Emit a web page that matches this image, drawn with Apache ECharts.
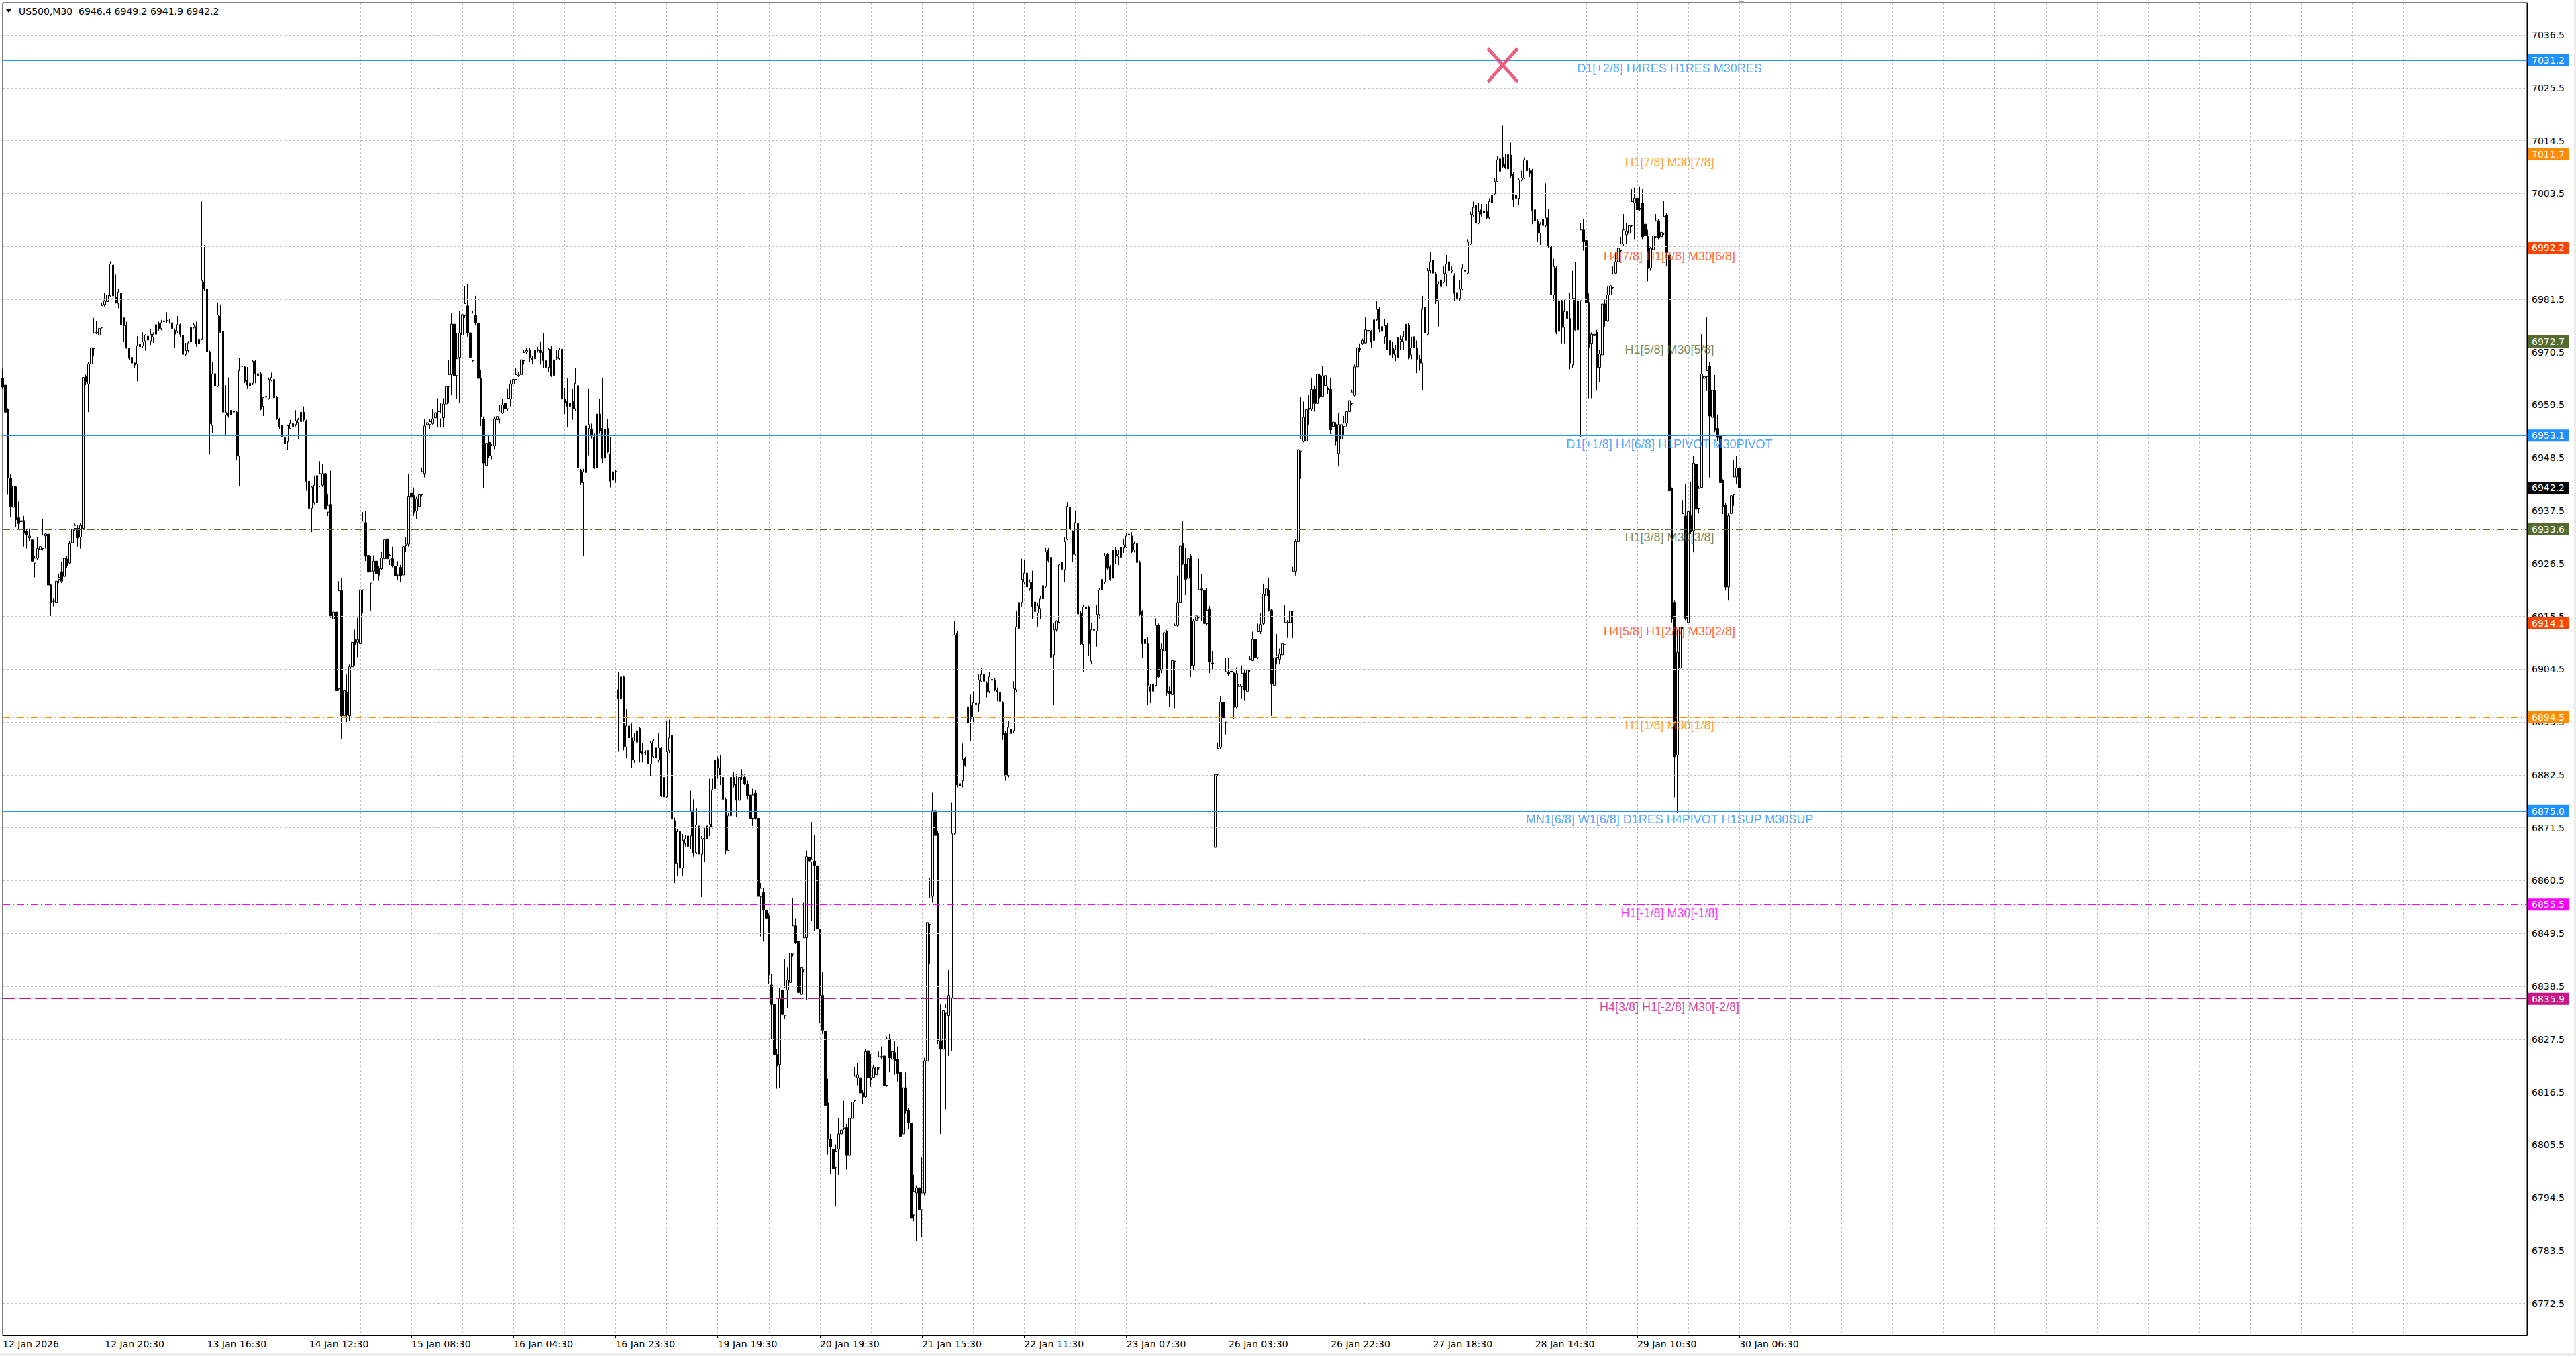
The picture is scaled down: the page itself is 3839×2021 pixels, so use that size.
<!DOCTYPE html>
<html>
<head>
<meta charset="utf-8">
<script src="https://cdn.jsdelivr.net/npm/echarts@6/dist/echarts.min.js"></script>
<style>html,body{margin:0;padding:0;background:#fff;}#c{width:3839px;height:2021px;}</style>
</head>
<body>
<div id="c"></div>
<script>
const symbolName = 'US500,M30';
const lastOHLC = ['6946.4', '6949.2', '6941.9', '6942.2'];
const tickLabels = ['12 Jan 2026','12 Jan 20:30','13 Jan 16:30','14 Jan 12:30','15 Jan 08:30','16 Jan 04:30','16 Jan 23:30','19 Jan 19:30','20 Jan 19:30','21 Jan 15:30','22 Jan 11:30','23 Jan 07:30','26 Jan 03:30','26 Jan 22:30','27 Jan 18:30','28 Jan 14:30','29 Jan 10:30','30 Jan 06:30'];
const labelStep = 38;
const gridStep = 19;
const totalSlots = 940;
const yTicks = [7036.5,7025.5,7014.5,7003.5,6992.5,6981.5,6970.5,6959.5,6948.5,6937.5,6926.5,6915.5,6904.5,6893.5,6882.5,6871.5,6860.5,6849.5,6838.5,6827.5,6816.5,6805.5,6794.5,6783.5,6772.5];

const opens = [
6965.0,6963.6,6958.6,6944.2,6938.2,6942.4,6936.0,6935.4,6935.4,6933.2,
6931.8,6931.4,6926.6,6927.6,6929.4,6929.6,6932.2,6932.6,6922.0,6918.6,
6918.4,6923.2,6924.8,6923.8,6927.4,6926.6,6930.8,6933.8,6933.8,6932.0,
6933.8,6965.4,6963.8,6968.0,6971.2,6974.4,6974.0,6975.6,6980.4,6981.0,
6982.2,6988.6,6981.9,6980.6,6982.8,6977.6,6976.0,6971.2,6969.4,6968.2,
6968.0,6971.6,6971.8,6972.8,6973.0,6972.8,6973.6,6974.2,6976.4,6975.4,
6976.8,6977.0,6977.0,6976.6,6975.0,6974.8,6976.2,6974.0,6970.0,6970.8,
6972.6,6975.6,6975.8,6972.2,6973.2,6985.0,6983.6,6970.6,6955.2,6966.0,
6963.4,6978.0,6974.8,6957.4,6957.8,6957.4,6958.2,6958.0,6948.8,6967.6,
6967.4,6964.6,6963.4,6964.0,6968.6,6965.6,6966.0,6959.2,6961.1,6960.8,
6964.6,6964.8,6961.2,6956.6,6955.2,6952.8,6951.8,6954.6,6955.0,6955.4,
6955.8,6956.0,6958.0,6956.2,6943.6,6938.0,6939.2,6939.2,6942.6,6942.8,
6945.2,6937.2,6938.8,6915.0,6916.4,6900.4,6920.8,6894.8,6899.6,6894.8,
6905.0,6910.6,6910.1,6909.8,6921.0,6935.0,6928.2,6922.4,6924.9,6927.0,
6925.4,6925.4,6927.5,6931.6,6927.3,6927.5,6926.0,6924.1,6925.7,6924.1,
6930.2,6930.5,6941.1,6940.6,6937.4,6938.4,6940.8,6945.2,6955.4,6955.4,
6955.6,6956.8,6958.2,6956.6,6956.8,6959.7,6963.3,6965.8,6976.3,6965.6,
6969.4,6974.0,6978.1,6980.1,6974.5,6968.7,6978.1,6976.5,6965.0,6956.6,
6946.9,6951.7,6948.9,6951.0,6956.4,6956.6,6957.8,6959.9,6958.7,6960.7,
6963.8,6964.8,6965.5,6965.8,6968.7,6970.5,6970.9,6969.2,6969.1,6970.8,
6970.9,6970.4,6968.7,6967.3,6971.1,6965.6,6969.2,6969.1,6971.1,6960.7,
6960.2,6959.2,6960.2,6958.7,6963.5,6945.9,6943.3,6945.4,6954.6,6954.4,
6952.7,6946.4,6957.6,6954.6,6948.4,6954.6,6949.3,6943.8,6945.6,6900.2,
6898.3,6902.9,6888.3,6892.7,6890.2,6885.6,6889.3,6892.2,6887.3,6887.0,
6887.6,6884.8,6886.3,6888.1,6885.6,6888.0,6882.0,6877.9,6887.6,6890.7,
6873.0,6864.1,6870.7,6863.1,6868.2,6867.6,6869.8,6875.1,6866.3,6871.9,
6866.0,6869.1,6869.2,6871.7,6871.7,6879.6,6885.8,6884.0,6882.0,6877.4,
6866.8,6874.0,6882.0,6880.6,6877.2,6882.3,6882.0,6880.6,6878.3,6873.5,
6878.7,6873.5,6857.2,6858.0,6854.3,6853.2,6838.8,6834.7,6824.3,6822.2,
6837.7,6832.4,6837.7,6839.3,6845.2,6851.1,6847.9,6836.8,6842.0,6848.6,
6865.3,6864.4,6864.6,6863.6,6850.3,6836.6,6829.2,6814.2,6806.7,6804.6,
6800.8,6804.6,6807.8,6809.0,6809.1,6803.3,6811.0,6814.7,6819.5,6819.5,
6816.3,6815.5,6825.1,6819.5,6819.6,6820.1,6821.5,6823.7,6824.0,6817.9,
6827.6,6823.3,6824.7,6823.3,6820.6,6807.8,6817.4,6812.6,6810.1,6790.9,
6795.5,6796.6,6792.0,6795.5,6823.0,6851.4,6857.2,6875.1,6870.3,6827.2,
6825.4,6832.9,6832.4,6836.1,6870.3,6912.0,6880.2,6881.3,6886.0,6893.3,
6897.0,6894.5,6897.2,6897.3,6902.0,6903.4,6901.6,6899.9,6902.2,6902.3,
6900.2,6899.7,6897.5,6891.1,6882.4,6891.1,6891.7,6900.2,6913.0,6918.4,
6922.6,6924.5,6921.2,6922.6,6918.5,6916.2,6917.1,6919.1,6921.7,6929.3,
6927.8,6907.5,6912.7,6914.2,6926.8,6925.2,6931.5,6938.3,6933.2,6928.4,
6934.8,6916.2,6909.6,6917.1,6917.5,6906.2,6912.6,6912.4,6915.9,6921.0,
6922.6,6928.4,6925.8,6923.4,6929.3,6928.0,6927.8,6929.7,6929.9,6932.4,
6932.2,6929.3,6930.6,6926.7,6916.5,6910.7,6909.8,6900.8,6899.9,6901.1,
6913.6,6904.4,6908.3,6912.3,6899.9,6899.2,6906.2,6913.6,6918.4,6930.6,
6926.4,6923.4,6928.1,6905.3,6914.7,6915.3,6921.2,6920.9,6914.0,6917.1,
6905.8,6867.4,6882.6,6888.3,6897.6,6893.5,6903.8,6904.1,6903.7,6896.7,
6900.9,6900.9,6903.7,6899.9,6904.3,6906.3,6910.7,6906.9,6912.3,6914.0,
6919.7,6920.8,6916.8,6901.1,6907.0,6906.6,6907.5,6909.6,6914.1,6914.2,
6916.6,6924.9,6931.0,6949.9,6951.9,6952.0,6958.6,6958.7,6962.7,6959.8,
6965.6,6961.3,6963.5,6963.0,6962.7,6955.0,6955.4,6949.4,6952.4,6955.0,
6955.7,6958.1,6959.8,6961.5,6967.4,6971.1,6972.3,6972.4,6974.8,6974.9,
6972.9,6977.2,6979.4,6975.8,6973.7,6976.0,6969.9,6971.3,6969.9,6969.4,
6972.7,6972.7,6972.9,6976.0,6969.9,6973.7,6971.4,6969.0,6968.2,6979.8,
6974.2,6987.4,6989.6,6986.7,6981.2,6984.1,6985.0,6986.7,6989.3,6987.3,
6986.4,6982.9,6981.7,6983.6,6987.3,6986.9,6993.0,6999.0,7001.1,6997.3,
7000.1,6999.9,6999.7,6998.4,7001.5,7003.4,7006.0,7008.1,7011.0,7009.6,
7008.6,7011.5,7007.5,7003.2,7002.5,7006.3,7006.7,7010.3,7008.2,7008.2,
7000.1,6997.8,6995.2,6996.8,6996.8,6998.4,6992.6,6982.4,6988.0,6974.8,
6981.2,6975.6,6978.9,6977.5,6967.8,6981.7,6975.1,6981.2,6995.9,6993.7,
6980.8,6972.3,6973.9,6974.6,6967.3,6969.9,6980.5,6977.0,6982.4,6983.9,
6986.9,6989.3,6991.6,6993.0,6994.9,6995.2,6996.8,7001.5,7002.5,7000.4,
7001.5,6997.1,6994.5,6987.9,6991.8,6994.5,6997.8,6994.5,6995.2,6999.0,
6990.7,6942.1,6918.4,6886.6,6904.7,6913.2,6936.4,6914.2,6936.4,6933.3,
6947.2,6938.0,6942.3,6965.0,6965.4,6967.6,6956.9,6962.4,6954.6,6953.1,
6943.7,6938.7,6921.6,6936.9,6940.8,6944.5,6946.4
];
const highs = [
6967.0,6964.0,6958.8,6945.0,6944.8,6942.6,6939.4,6935.8,6936.4,6933.6,
6933.8,6931.6,6928.0,6932.0,6931.2,6935.8,6932.8,6936.0,6922.2,6919.2,
6924.0,6924.4,6926.8,6928.8,6928.0,6931.2,6935.6,6934.8,6934.4,6934.8,
6967.4,6965.8,6968.4,6975.6,6977.6,6977.0,6977.0,6980.8,6982.8,6982.8,
6989.4,6990.2,6986.6,6983.6,6983.4,6977.8,6976.8,6971.4,6970.4,6968.4,
6973.8,6973.6,6974.6,6974.2,6974.2,6975.2,6974.6,6976.4,6976.8,6977.2,
6979.6,6978.8,6977.4,6976.8,6975.4,6978.0,6976.4,6974.2,6972.4,6972.8,
6976.0,6976.6,6976.8,6974.8,7001.8,6992.8,6984.0,6970.8,6968.4,6966.4,
6980.8,6980.4,6975.2,6963.6,6965.2,6960.0,6960.8,6958.2,6969.2,6970.0,
6967.6,6967.4,6964.4,6968.8,6968.8,6966.8,6966.4,6961.2,6961.6,6965.2,
6966.2,6965.0,6961.4,6956.8,6955.6,6953.0,6955.4,6956.4,6956.0,6958.4,
6956.8,6960.4,6959.2,6956.4,6943.8,6942.6,6944.8,6946.0,6947.8,6947.2,
6945.6,6941.0,6945.8,6916.8,6922.0,6922.8,6923.4,6901.2,6903.4,6905.5,
6911.1,6912.7,6915.2,6922.9,6937.2,6937.5,6930.2,6928.0,6928.2,6927.3,
6925.9,6929.0,6932.1,6932.1,6928.5,6930.0,6927.0,6927.0,6926.2,6931.3,
6931.9,6945.2,6944.4,6942.3,6940.5,6941.3,6946.4,6956.6,6959.7,6956.6,
6958.7,6959.9,6960.9,6959.9,6960.9,6964.0,6968.9,6978.6,6977.1,6974.5,
6979.1,6982.0,6984.2,6984.7,6975.0,6979.1,6982.2,6976.9,6966.8,6957.1,
6952.0,6953.0,6951.3,6957.1,6958.2,6959.5,6960.7,6960.7,6962.8,6964.6,
6965.6,6967.1,6966.3,6970.7,6970.9,6971.3,6971.4,6969.6,6971.4,6971.6,
6972.7,6974.5,6969.1,6971.4,6971.7,6969.4,6970.9,6971.4,6971.4,6963.0,
6965.0,6960.7,6962.8,6967.1,6969.9,6946.2,6946.2,6955.8,6962.8,6955.6,
6953.5,6959.7,6960.7,6965.0,6957.8,6956.6,6952.7,6947.4,6945.9,6904.0,
6903.2,6903.2,6896.3,6896.3,6893.2,6891.2,6892.2,6892.4,6889.1,6887.6,
6888.1,6889.6,6890.0,6889.6,6891.2,6888.3,6882.5,6893.7,6894.0,6891.2,
6873.6,6871.2,6871.2,6870.2,6870.0,6871.0,6879.2,6877.4,6875.6,6876.2,
6869.8,6871.7,6872.7,6881.7,6881.7,6886.0,6886.3,6886.6,6882.6,6877.8,
6874.6,6882.8,6883.1,6882.6,6884.2,6883.7,6882.6,6881.3,6879.6,6879.6,
6879.4,6875.3,6860.0,6858.9,6855.3,6853.7,6841.1,6836.1,6825.4,6838.2,
6838.2,6844.1,6842.5,6848.4,6856.9,6852.7,6848.4,6843.1,6855.9,6866.8,
6874.2,6872.7,6869.9,6866.0,6850.5,6841.4,6829.7,6819.3,6807.8,6810.8,
6805.6,6811.0,6809.1,6814.7,6809.9,6811.5,6815.8,6821.7,6822.5,6820.6,
6816.9,6825.4,6825.4,6824.4,6822.2,6824.4,6824.9,6826.0,6826.5,6828.1,
6828.6,6827.0,6827.2,6826.0,6820.8,6817.9,6820.6,6813.1,6810.5,6799.3,
6797.1,6800.1,6803.0,6823.6,6853.2,6861.0,6878.8,6876.7,6870.8,6834.7,
6835.4,6834.7,6842.0,6876.7,6914.6,6912.5,6888.5,6889.0,6886.3,6898.6,
6899.2,6899.9,6898.6,6903.4,6904.8,6905.0,6902.0,6903.9,6903.4,6902.7,
6900.7,6900.7,6897.8,6891.7,6893.8,6892.4,6902.0,6916.7,6923.4,6927.5,
6927.2,6925.3,6923.2,6925.0,6921.0,6918.4,6919.7,6922.0,6929.7,6929.7,
6935.4,6914.0,6914.7,6926.4,6933.6,6931.9,6939.3,6939.7,6933.4,6937.4,
6935.6,6916.6,6917.9,6920.3,6917.7,6914.2,6914.2,6917.9,6921.4,6926.2,
6928.7,6928.7,6926.2,6930.1,6929.9,6929.3,6930.6,6931.5,6932.8,6934.8,
6933.0,6931.0,6930.8,6927.1,6916.8,6914.0,6911.2,6901.4,6901.8,6915.1,
6914.0,6909.8,6914.4,6912.7,6900.9,6907.9,6914.0,6924.0,6933.0,6935.4,
6929.7,6929.5,6928.4,6914.9,6918.4,6927.5,6924.3,6921.4,6921.4,6917.7,
6908.3,6884.2,6889.2,6898.8,6898.1,6906.9,6906.9,6906.3,6904.0,6904.9,
6903.1,6905.3,6904.4,6904.9,6907.2,6912.3,6911.6,6914.0,6916.2,6922.3,
6922.0,6923.4,6917.1,6907.5,6911.8,6908.8,6910.5,6917.9,6914.7,6921.0,
6925.8,6931.5,6953.1,6961.1,6960.2,6961.1,6961.5,6965.0,6963.5,6969.0,
6965.9,6967.6,6967.4,6963.3,6965.0,6956.3,6955.9,6957.8,6955.9,6957.2,
6958.3,6960.9,6962.7,6967.9,6972.0,6972.3,6973.3,6977.7,6975.5,6975.1,
6977.7,6981.2,6979.9,6977.7,6977.3,6976.5,6973.7,6972.7,6972.0,6973.9,
6973.9,6974.8,6977.7,6976.5,6973.7,6974.2,6972.9,6969.9,6982.2,6981.7,
6987.9,6991.4,6992.4,6987.1,6985.2,6987.9,6988.3,6990.7,6990.7,6988.3,
6986.9,6984.3,6985.5,6988.8,6987.9,6994.0,6999.7,7001.8,7001.5,7001.5,
7001.3,7001.3,7001.3,7002.5,7003.9,7006.7,7011.3,7015.9,7017.6,7011.7,
7013.8,7014.1,7007.9,7005.3,7006.7,7008.2,7011.0,7010.7,7008.8,7008.6,
7003.2,6998.1,6997.5,6998.4,7005.6,7000.3,6993.0,6989.9,6988.3,6984.1,
6981.4,6981.4,6979.8,6982.9,6987.4,6989.3,6989.6,6997.3,6998.2,6997.1,
6982.7,6974.6,6974.6,6975.1,6970.9,6981.4,6981.4,6984.1,6985.2,6988.3,
6991.2,6993.5,6994.5,6999.2,6997.3,6998.2,7004.4,7004.7,7004.9,7004.9,
7004.4,6998.7,6995.9,6992.6,6995.2,6999.2,6998.2,6996.4,7002.0,6999.4,
6991.2,6942.3,6918.9,6912.8,6916.1,6939.7,6943.0,6937.8,6943.5,6948.9,
6948.0,6942.7,6974.2,6968.2,6977.7,6968.5,6963.3,6965.7,6957.5,6953.4,
6944.0,6939.2,6936.9,6946.3,6948.0,6948.9,6949.2
];
const lows = [
6962.8,6957.0,6940.8,6936.2,6932.4,6934.0,6933.6,6934.8,6930.0,6929.6,
6931.2,6925.2,6923.6,6927.2,6929.2,6929.2,6929.6,6921.0,6915.6,6917.6,
6916.8,6922.4,6922.4,6922.6,6925.6,6926.4,6930.0,6933.2,6930.0,6929.6,
6933.6,6963.6,6958.0,6965.2,6969.6,6974.2,6969.8,6975.4,6980.0,6978.4,
6982.0,6980.8,6980.6,6979.6,6975.8,6972.6,6971.2,6968.8,6967.4,6967.2,
6964.4,6971.2,6971.4,6970.8,6972.6,6972.0,6972.4,6972.8,6974.8,6975.0,
6976.0,6976.6,6976.4,6975.2,6971.4,6974.4,6973.6,6968.0,6969.6,6970.4,
6969.2,6975.4,6971.6,6971.4,6973.0,6983.2,6970.4,6949.2,6953.6,6952.4,
6963.2,6974.4,6953.6,6953.0,6956.8,6950.6,6957.6,6948.0,6942.6,6967.2,
6964.0,6962.8,6963.0,6963.6,6964.0,6963.2,6958.4,6957.2,6960.9,6960.6,
6964.4,6960.8,6956.4,6954.4,6952.4,6949.6,6950.2,6954.4,6954.8,6955.0,
6952.4,6955.8,6956.0,6941.6,6934.0,6933.0,6938.8,6930.4,6942.4,6942.4,
6933.6,6936.4,6915.2,6904.4,6893.6,6900.0,6890.0,6891.2,6893.5,6893.7,
6904.7,6905.3,6907.0,6902.4,6916.2,6927.0,6912.1,6916.7,6922.9,6922.7,
6922.9,6925.1,6919.6,6927.0,6926.2,6925.7,6923.1,6923.1,6922.7,6923.9,
6929.0,6930.0,6937.2,6936.4,6935.7,6935.7,6940.5,6944.4,6954.6,6954.4,
6955.4,6956.4,6954.8,6954.8,6954.8,6956.6,6959.9,6961.5,6961.2,6960.7,
6959.9,6973.5,6977.6,6973.7,6968.7,6968.4,6976.0,6964.3,6955.1,6942.1,
6942.1,6948.4,6948.2,6950.3,6953.5,6955.6,6957.6,6956.1,6958.2,6959.2,
6963.6,6964.6,6965.3,6965.5,6967.9,6970.1,6968.4,6967.9,6968.7,6970.4,
6967.9,6967.1,6964.6,6966.3,6965.3,6965.3,6968.9,6968.9,6959.9,6957.6,
6954.8,6957.6,6956.4,6958.2,6946.2,6942.8,6928.0,6942.5,6949.0,6952.5,
6946.2,6945.6,6953.5,6947.4,6945.6,6949.5,6942.3,6940.8,6943.3,6887.3,
6884.2,6887.6,6886.1,6888.6,6884.0,6885.0,6888.9,6885.1,6885.1,6886.6,
6884.5,6882.2,6886.1,6885.9,6885.1,6877.9,6874.0,6877.7,6887.1,6868.7,
6860.0,6861.5,6862.5,6861.5,6867.6,6867.4,6867.1,6865.5,6866.0,6863.9,
6857.1,6864.4,6866.0,6869.8,6871.4,6877.8,6881.7,6880.4,6877.2,6866.0,
6866.6,6873.8,6879.9,6873.8,6877.0,6881.5,6880.4,6877.4,6871.9,6871.9,
6873.2,6855.9,6848.9,6847.8,6848.9,6839.0,6827.6,6823.3,6817.2,6817.4,
6830.8,6831.8,6834.0,6838.8,6844.7,6847.3,6830.8,6835.6,6841.4,6835.6,
6856.1,6852.1,6850.0,6847.9,6830.8,6828.6,6806.2,6803.5,6799.5,6792.8,
6792.8,6799.3,6805.1,6808.6,6800.3,6803.0,6810.5,6814.4,6817.9,6815.8,
6814.0,6815.3,6819.0,6817.6,6819.5,6817.4,6821.1,6823.3,6817.6,6817.6,
6820.6,6823.0,6820.1,6818.7,6807.0,6805.1,6812.0,6808.9,6789.6,6789.6,
6785.6,6791.8,6786.4,6795.0,6815.8,6843.1,6855.9,6865.7,6826.5,6807.8,
6816.3,6812.9,6824.0,6825.1,6870.0,6879.9,6873.0,6879.9,6884.2,6888.1,
6889.5,6893.3,6895.4,6895.6,6901.8,6901.3,6898.6,6899.5,6901.3,6899.9,
6897.8,6897.0,6889.8,6881.3,6882.0,6884.9,6891.3,6899.7,6912.5,6917.6,
6922.1,6918.0,6920.8,6915.0,6913.6,6913.3,6914.9,6916.8,6921.4,6926.7,
6902.0,6897.0,6912.3,6914.0,6924.9,6922.7,6931.3,6931.5,6926.9,6928.2,
6915.8,6909.6,6904.0,6915.6,6907.2,6905.5,6911.8,6909.2,6915.1,6920.6,
6922.3,6925.2,6922.9,6923.2,6926.4,6926.2,6927.3,6928.7,6929.7,6931.9,
6928.7,6928.8,6926.4,6915.6,6906.9,6907.9,6897.0,6897.4,6897.4,6900.9,
6902.7,6903.7,6908.1,6899.0,6896.6,6896.1,6896.4,6913.3,6917.3,6926.2,
6919.9,6923.2,6902.9,6904.3,6907.0,6915.1,6914.5,6910.7,6913.6,6903.7,
6904.4,6858.2,6882.2,6887.8,6893.5,6890.9,6903.1,6902.7,6894.1,6896.4,
6898.8,6898.3,6897.9,6898.8,6904.0,6906.2,6906.3,6906.6,6911.8,6913.6,
6917.1,6916.5,6894.8,6900.8,6905.5,6905.5,6905.5,6909.5,6911.0,6914.0,
6911.0,6924.0,6930.8,6944.1,6951.7,6948.9,6955.4,6958.3,6958.1,6956.6,
6960.9,6961.3,6962.8,6961.8,6953.4,6953.4,6951.1,6946.7,6952.0,6953.3,
6955.0,6957.8,6959.5,6961.3,6967.2,6970.5,6972.0,6972.3,6974.6,6971.4,
6972.6,6977.0,6974.6,6973.8,6972.3,6970.9,6968.5,6969.2,6968.6,6969.2,
6970.9,6970.9,6972.3,6969.0,6969.0,6970.9,6966.1,6966.6,6962.6,6972.0,
6973.9,6986.9,6980.8,6980.5,6975.8,6983.2,6984.8,6984.1,6986.4,6986.9,
6981.2,6979.2,6981.2,6983.4,6986.9,6986.7,6992.8,6998.7,6996.8,6997.1,
6998.7,6998.4,6998.2,6998.2,7001.3,7003.1,7005.8,7007.7,7008.8,7008.6,
7004.9,7006.7,7000.6,7001.5,7001.1,7006.0,7006.5,7007.9,7006.9,6997.1,
6997.3,6993.5,6992.8,6996.4,6996.4,6992.1,6982.2,6981.2,6974.2,6971.8,
6972.3,6972.3,6975.6,6966.9,6967.1,6974.8,6974.6,6952.7,6991.6,6980.5,
6960.9,6960.9,6967.1,6962.5,6964.2,6969.7,6975.8,6976.8,6982.2,6983.6,
6986.7,6989.0,6991.4,6992.6,6993.0,6994.9,6996.5,6994.0,6999.7,6999.9,
6994.0,6994.0,6985.2,6987.4,6991.6,6994.3,6994.0,6994.0,6994.9,6988.3,
6940.8,6914.2,6877.8,6874.5,6904.6,6912.8,6914.7,6913.2,6932.6,6928.8,
6937.3,6936.9,6942.1,6963.3,6962.4,6944.4,6956.7,6953.8,6952.0,6942.5,
6936.8,6921.0,6918.9,6936.7,6938.5,6943.0,6941.9
];
const closes = [
6963.2,6958.0,6944.4,6938.4,6942.6,6935.6,6934.8,6935.2,6932.8,6932.4,
6932.2,6927.0,6927.6,6929.6,6930.0,6932.4,6932.6,6922.0,6918.4,6918.8,
6922.8,6923.6,6922.8,6927.6,6926.0,6930.6,6933.6,6934.4,6931.8,6934.4,
6965.2,6964.2,6968.0,6971.4,6974.4,6974.6,6975.4,6980.2,6981.2,6982.4,
6988.8,6982.2,6980.8,6983.0,6976.2,6976.0,6971.4,6969.2,6968.2,6967.8,
6971.8,6972.2,6972.6,6974.0,6973.8,6974.2,6974.2,6976.2,6975.4,6976.6,
6977.0,6977.1,6976.9,6975.4,6974.2,6976.2,6974.2,6970.0,6970.8,6972.4,
6975.6,6976.2,6972.2,6973.2,6985.4,6983.6,6970.6,6955.6,6966.0,6963.4,
6978.2,6974.6,6958.0,6958.0,6957.2,6958.4,6958.0,6949.0,6966.6,6967.5,
6964.4,6963.6,6964.0,6968.6,6966.0,6966.0,6958.6,6961.0,6961.3,6964.8,
6965.2,6961.0,6956.6,6955.0,6952.8,6951.4,6955.2,6955.6,6955.6,6956.2,
6956.4,6958.0,6956.4,6943.6,6938.0,6942.4,6942.8,6944.8,6945.2,6945.2,
6937.8,6938.6,6915.6,6916.4,6900.0,6920.8,6894.8,6900.0,6895.0,6905.0,
6910.1,6909.6,6910.6,6921.0,6935.3,6928.0,6924.7,6924.9,6927.0,6924.4,
6924.1,6927.7,6931.4,6927.5,6928.2,6926.0,6923.9,6926.0,6923.9,6930.0,
6930.5,6940.5,6940.3,6937.2,6940.0,6940.8,6945.6,6955.1,6955.8,6956.0,
6956.6,6957.9,6958.1,6957.8,6959.7,6963.3,6965.8,6976.3,6965.6,6969.1,
6974.5,6978.3,6980.6,6974.5,6969.4,6978.6,6976.5,6965.0,6957.1,6947.4,
6951.5,6948.9,6951.0,6956.6,6957.1,6958.2,6959.5,6958.7,6960.9,6963.8,
6964.8,6965.8,6965.7,6968.9,6970.4,6970.8,6969.4,6969.0,6970.9,6971.0,
6970.4,6968.7,6967.3,6971.1,6965.6,6968.9,6969.4,6970.9,6960.7,6959.9,
6959.2,6959.9,6958.7,6964.0,6946.4,6943.3,6945.6,6955.1,6955.4,6953.0,
6946.4,6957.6,6954.1,6948.4,6954.4,6949.7,6943.6,6945.6,6945.7,6898.3,
6902.9,6888.3,6892.7,6890.2,6885.6,6889.6,6891.7,6887.1,6886.8,6887.2,
6884.8,6889.1,6889.6,6886.1,6888.1,6878.1,6877.9,6887.3,6890.2,6873.3,
6864.1,6870.7,6863.1,6868.9,6869.2,6869.8,6875.1,6866.3,6872.1,6866.0,
6869.2,6869.3,6871.9,6872.3,6879.4,6885.6,6884.0,6882.4,6877.4,6866.8,
6874.0,6882.0,6880.4,6877.2,6882.0,6882.5,6880.6,6878.1,6873.5,6878.3,
6873.5,6857.2,6858.9,6854.3,6852.7,6840.9,6834.7,6824.3,6821.9,6836.1,
6832.6,6838.2,6839.8,6845.4,6851.1,6847.5,6837.2,6842.5,6848.6,6865.5,
6864.6,6864.9,6863.6,6850.5,6836.6,6829.4,6813.7,6806.7,6805.1,6800.5,
6804.1,6807.8,6808.6,6809.2,6803.3,6811.0,6814.4,6819.8,6820.1,6816.3,
6815.5,6824.9,6819.5,6819.0,6821.5,6821.7,6823.8,6823.9,6817.9,6827.6,
6823.6,6824.9,6823.0,6820.4,6807.3,6817.4,6812.6,6810.1,6790.2,6795.8,
6796.6,6792.0,6795.5,6823.0,6851.8,6856.9,6875.1,6869.9,6827.2,6825.4,
6833.4,6834.0,6836.6,6870.3,6911.6,6880.4,6880.7,6885.8,6884.5,6896.7,
6894.3,6897.5,6897.4,6902.3,6903.4,6902.0,6899.7,6902.9,6902.4,6900.2,
6899.7,6897.8,6890.9,6882.4,6892.4,6892.0,6900.5,6913.3,6918.4,6923.2,
6924.5,6921.6,6922.6,6917.5,6916.5,6917.7,6919.1,6921.9,6929.0,6927.1,
6907.0,6912.7,6914.5,6926.2,6925.3,6931.0,6938.4,6933.6,6928.4,6935.0,
6916.0,6909.8,6917.5,6917.5,6909.8,6912.7,6912.8,6915.9,6921.0,6923.2,
6928.1,6925.5,6923.2,6929.3,6928.1,6928.4,6929.9,6930.4,6932.2,6932.6,
6929.0,6930.6,6926.7,6915.9,6909.8,6909.8,6901.1,6899.9,6901.4,6913.6,
6902.9,6908.6,6912.1,6899.6,6899.4,6906.3,6913.6,6918.4,6930.1,6926.4,
6923.2,6927.5,6905.3,6914.5,6915.6,6921.0,6920.9,6914.0,6916.8,6906.0,
6905.7,6882.6,6888.0,6897.6,6894.4,6904.0,6903.6,6903.9,6896.6,6903.6,
6901.4,6903.6,6900.1,6904.4,6906.6,6910.7,6906.9,6912.3,6913.8,6920.1,
6921.2,6916.8,6901.4,6906.9,6907.3,6907.7,6909.8,6914.2,6914.3,6916.6,
6924.9,6931.0,6950.2,6952.4,6956.9,6958.5,6958.8,6962.7,6959.8,6965.9,
6961.3,6965.5,6965.6,6962.7,6954.3,6955.9,6951.9,6955.4,6955.4,6955.7,
6958.1,6960.4,6962.2,6967.4,6971.4,6971.2,6972.9,6975.1,6975.0,6972.6,
6977.2,6979.4,6975.2,6974.8,6976.0,6971.0,6972.9,6970.1,6971.0,6973.5,
6973.2,6973.7,6976.3,6969.4,6971.4,6971.4,6969.0,6968.2,6979.4,6974.5,
6987.4,6989.3,6986.9,6981.1,6984.6,6985.5,6986.9,6988.8,6987.4,6987.5,
6982.7,6981.7,6983.6,6987.9,6987.5,6993.5,6999.2,7000.6,6997.3,6999.7,
6999.2,6999.4,6998.4,7001.8,7003.1,7006.0,7010.5,7010.7,7009.1,7008.8,
7011.6,7007.2,7002.2,7002.5,7006.3,7006.7,7010.5,7008.2,7007.7,6999.9,
6997.8,6995.2,6997.1,6998.1,6998.4,6992.6,6982.4,6988.3,6974.6,6981.2,
6975.6,6978.9,6977.5,6968.2,6981.7,6975.1,6981.2,6995.9,6993.5,6980.8,
6971.4,6974.2,6974.2,6967.3,6970.1,6980.5,6977.0,6982.4,6984.3,6986.7,
6989.3,6992.1,6993.0,6995.9,6995.6,6996.8,7001.8,7002.5,7000.1,7000.2,
6994.5,6994.7,6987.9,6992.1,6994.7,6997.8,6994.3,6995.4,6998.7,6991.2,
6941.6,6915.1,6886.3,6908.0,6913.2,6936.9,6915.1,6937.3,6933.1,6947.4,
6937.8,6942.1,6965.9,6965.4,6966.6,6957.2,6962.5,6954.3,6952.7,6943.3,
6938.3,6921.6,6936.4,6940.6,6944.5,6946.4,6942.2
];

const levelPrices = [7031.2, 7011.7, 6992.2, 6972.7, 6953.1, 6933.6, 6914.1, 6894.5, 6875.0, 6855.5, 6835.9];
const levelNotes = [
  'D1[+2/8] H4RES H1RES M30RES',
  'H1[7/8] M30[7/8]',
  'H4[7/8] H1[6/8] M30[6/8]',
  'H1[5/8] M30[5/8]',
  'D1[+1/8] H4[6/8] H1PIVOT M30PIVOT',
  'H1[3/8] M30[3/8]',
  'H4[5/8] H1[2/8] M30[2/8]',
  'H1[1/8] M30[1/8]',
  'MN1[6/8] W1[6/8] D1RES H4PIVOT H1SUP M30SUP',
  'H1[-1/8] M30[-1/8]',
  'H4[3/8] H1[-2/8] M30[-2/8]'
];
const bidPrice = 6942.2;
const noteBar = 620;
const crossMark = { bar: 558, price: 7030.2 };

// ---- styles (not data) ----
const levelColors = ['#1E90FF','#FF8C00','#FF4500','#556B2F','#1E90FF','#556B2F','#FF4500','#FF8C00','#1E90FF','#FF00FF','#C71585'];
const levelKinds = ['solid','dashdot','dash','dashdot','solid','dashdot','dash','dashdot','solid','dashdot','dash'];
const levelWidths = [1,1,1,1,1,1,1,1,2,1,1];
const dashMap = { solid: 'solid', dash: [18, 6], dashdot: [11, 4, 2, 4] };
const AXIS_FONT = 'DejaVu Sans';
const NOTE_FONT = 'Liberation Sans, Arial, sans-serif';

const slots = Array.from({ length: totalSlots }, (_, i) => String(i));
const showTime = (i) => i % labelStep === 0 && (i / labelStep) < tickLabels.length;
const candles = opens.map((o, i) => {
  const c = closes[i];
  return [o, c, Math.min(lows[i], o, c), Math.max(highs[i], o, c)];
});

const chart = echarts.init(document.getElementById('c'), null, { renderer: 'svg', width: 3839, height: 2021 });

const priceTag = (bg) => ({
  show: true, position: 'end', distance: 1,
  formatter: (p) => Number(p.value).toFixed(1),
  color: '#fff', backgroundColor: bg,
  padding: [2, 7, 1, 6], lineHeight: 15,
  fontFamily: AXIS_FONT, fontSize: 14
});

const levelLineData = levelPrices.map((p, i) => ({
  yAxis: p,
  lineStyle: { color: levelColors[i], width: levelWidths[i], type: dashMap[levelKinds[i]] },
  label: priceTag(levelColors[i])
}));
levelLineData.push({
  yAxis: bidPrice,
  lineStyle: { color: '#C0C0C0', width: 1, type: 'solid' },
  label: priceTag('#000000')
});

const option = {
  animation: false,
  backgroundColor: '#ffffff',
  grid: { left: 4, right: 73, top: 4, bottom: 31, show: true, borderColor: '#000', borderWidth: 1, backgroundColor: '#fff' },
  xAxis: {
    type: 'category', data: slots, boundaryGap: false,
    axisLine: { show: true, lineStyle: { color: '#000', width: 1 } },
    axisTick: { show: true, interval: (i) => showTime(i), length: 4, lineStyle: { color: '#000' } },
    axisLabel: {
      show: true, interval: (i) => showTime(i),
      formatter: (v, i) => tickLabels[i / labelStep] || '',
      align: 'left', margin: 6, color: '#000', fontFamily: AXIS_FONT, fontSize: 14
    },
    splitLine: { show: true, interval: (i) => i % gridStep === 0 && i > 0, lineStyle: { color: '#c0c0c0', type: [3, 3], width: 1 } }
  },
  yAxis: {
    type: 'value', position: 'right', min: 6765.9, max: 7043.2, scale: true,
    axisLine: { show: true, lineStyle: { color: '#000' } },
    axisTick: { show: false }, axisLabel: { show: false }, splitLine: { show: false }
  },
  graphic: [
    { type: 'polygon', shape: { points: [[9, 14], [17, 14], [13, 19]] }, style: { fill: '#000' }, z: 10 },
    { type: 'text', style: { x: 28, y: 17, text: symbolName + '  ' + lastOHLC.join(' '), fill: '#000', font: '14px "DejaVu Sans"', verticalAlign: 'middle' }, z: 10 },
    { type: 'polygon', shape: { points: [[2589, 1], [2601, 1], [2595, 6]] }, style: { fill: '#a8a8a8' }, z: 10 },
    { type: 'rect', shape: { x: 0, y: 2017, width: 3839, height: 4 }, style: { fill: '#ececec' }, z: 10 },
    { type: 'rect', shape: { x: 3836, y: 0, width: 3, height: 2021 }, style: { fill: '#ececec' }, z: 10 }
  ],
  series: [
    {
      name: 'grid', type: 'line', data: [[0, 6900]], symbol: 'none', silent: true, z: 1,
      lineStyle: { opacity: 0 },
      markLine: {
        silent: true, symbol: 'none', animation: false,
        lineStyle: { color: '#c0c0c0', type: [3, 3], width: 1 },
        label: { show: true, position: 'end', distance: 7, color: '#000', fontFamily: AXIS_FONT, fontSize: 14, formatter: (p) => Number(p.value).toFixed(1) },
        emphasis: { disabled: true },
        data: yTicks.map((v) => ({ yAxis: v }))
      }
    },
    {
      name: 'US500', type: 'candlestick', data: candles, barWidth: 3, large: false, z: 3, silent: true,
      itemStyle: { color: '#ffffff', color0: '#000000', borderColor: '#000000', borderColor0: '#000000', borderWidth: 1 }
    },
    {
      name: 'levels', type: 'line', data: [[0, 6900]], symbol: 'none', silent: true, z: 5,
      lineStyle: { opacity: 0 },
      markLine: { silent: true, symbol: 'none', animation: false, emphasis: { disabled: true }, data: levelLineData }
    },
    {
      name: 'notes', type: 'scatter', silent: true, z: 6, symbolSize: 1,
      itemStyle: { color: 'rgba(0,0,0,0)' },
      data: levelPrices.map((p, i) => ({ value: [noteBar, p], label: { color: levelColors[i] } })),
      label: { show: true, position: 'bottom', distance: 3, formatter: (p) => levelNotes[p.dataIndex], fontFamily: NOTE_FONT, fontSize: 18 }
    },
    {
      name: 'mark', type: 'scatter', silent: true, z: 7,
      symbol: 'path://M7,0L50,43L93,0L100,7L57,50L100,93L93,100L50,57L7,100L0,93L43,50L0,7Z',
      symbolSize: [48, 54],
      itemStyle: { color: '#E8385E' },
      data: [[crossMark.bar, crossMark.price]]
    }
  ]
};
chart.setOption(option);
</script>
</body>
</html>
